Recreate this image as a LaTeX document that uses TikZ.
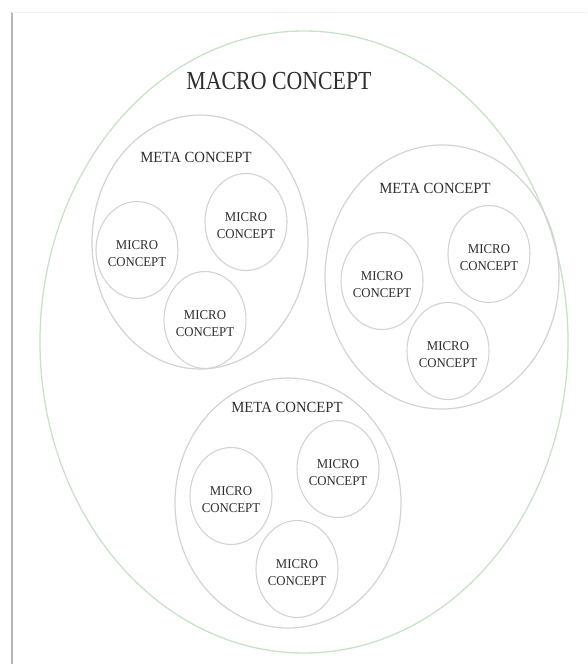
\documentclass[tikz,border=0pt]{standalone}
\usepackage{fontspec}
\setmainfont{Liberation Serif}
\usetikzlibrary{shapes.geometric}
\definecolor{ring}{HTML}{D3D3D3}
\definecolor{macroring}{HTML}{C6E3C6}
\definecolor{txt}{HTML}{2E2E2E}
\definecolor{frameline}{HTML}{B4B4B4}
\begin{document}
\begin{tikzpicture}[x=1pt,y=-1pt,
  ringbase/.style={ellipse, inner sep=0pt},
  macroshape/.style={ringbase, draw=macroring, line width=1.3pt},
  metashape/.style={ringbase, draw=ring, line width=1.2pt},
  microshape/.style={ringbase, draw=ring, line width=1.1pt, minimum width=82pt, minimum height=97pt},
  macrotext/.style={font=\fontsize{26}{30}\selectfont, text=txt, xscale=0.84, inner sep=0pt},
  metatext/.style={font=\fontsize{15.5}{18}\selectfont, text=txt, xscale=0.95, inner sep=0pt},
  microtext/.style={font=\fontsize{13.5}{17}\selectfont, text=txt, xscale=0.95, align=center, inner sep=0pt}]
\useasboundingbox (0,0) rectangle (587,664);
% frame lines
\coordinate (ftop) at (12,12);
\coordinate (fbot) at (12,664);
\coordinate (fright) at (587,12);
\draw[frameline, line width=1.8pt] (ftop) -- (fbot);
\draw[black!6, line width=0.8pt] (ftop) -- (fright);
% macro
\node[macroshape, minimum width=528pt, minimum height=622pt] (macro) at (304,342) {};
\node[macrotext] (macrolbl) at (279,81) {MACRO CONCEPT};
% meta 1
\node[metashape, minimum width=216pt, minimum height=254pt] (metaA) at (200,242) {};
\node[metatext] (metaAlbl) at (196,157) {META CONCEPT};
\node[microshape] (mA1) at (137,250) {};
\node[microshape] (mA2) at (246,222) {};
\node[microshape] (mA3) at (205,320) {};
\node[microtext] at ([yshift=-4pt]mA1.center) {MICRO\\CONCEPT};
\node[microtext] at ([yshift=-4pt]mA2.center) {MICRO\\CONCEPT};
\node[microtext] at ([yshift=-4pt]mA3.center) {MICRO\\CONCEPT};
% meta 2
\node[metashape, minimum width=234pt, minimum height=264pt] (metaB) at (442,277) {};
\node[metatext] (metaBlbl) at (435,188) {META CONCEPT};
\node[microshape] (mB1) at (382,281) {};
\node[microshape] (mB2) at (489,254) {};
\node[microshape] (mB3) at (448,351) {};
\node[microtext] at ([yshift=-4pt]mB1.center) {MICRO\\CONCEPT};
\node[microtext] at ([yshift=-4pt]mB2.center) {MICRO\\CONCEPT};
\node[microtext] at ([yshift=-4pt]mB3.center) {MICRO\\CONCEPT};
% meta 3
\node[metashape, minimum width=226pt, minimum height=250pt] (metaC) at (288,503) {};
\node[metatext] (metaClbl) at (287,407) {META CONCEPT};
\node[microshape] (mC1) at (231,496) {};
\node[microshape] (mC2) at (338,469) {};
\node[microshape] (mC3) at (297,569) {};
\node[microtext] at ([yshift=-4pt]mC1.center) {MICRO\\CONCEPT};
\node[microtext] at ([yshift=-4pt]mC2.center) {MICRO\\CONCEPT};
\node[microtext] at ([yshift=-4pt]mC3.center) {MICRO\\CONCEPT};
\end{tikzpicture}
\end{document}
